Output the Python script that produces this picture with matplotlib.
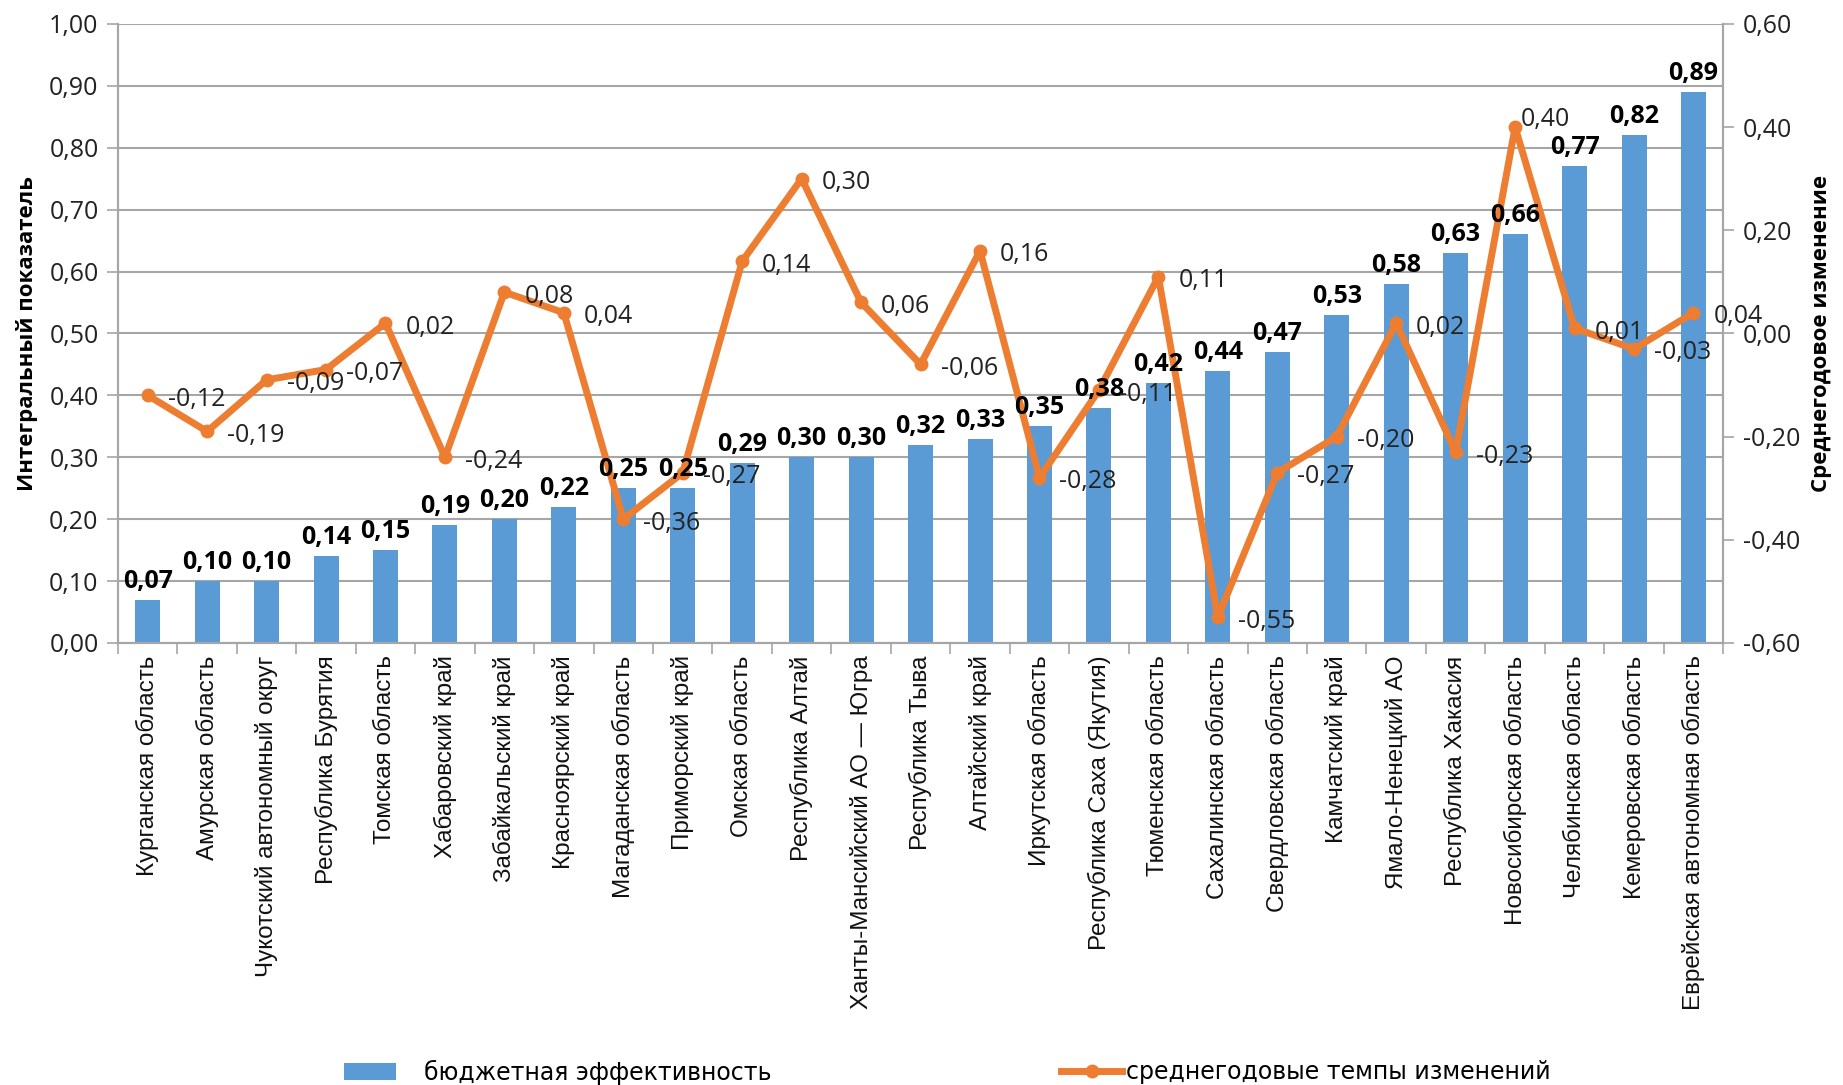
import matplotlib.pyplot as plt
from matplotlib.lines import Line2D
from matplotlib.patches import Patch
from matplotlib.ticker import FuncFormatter, MultipleLocator

regions = [
    'Курганская область', 'Амурская область', 'Чукотский автономный округ',
    'Республика Бурятия', 'Томская область', 'Хабаровский край',
    'Забайкальский край', 'Красноярский край', 'Магаданская область',
    'Приморский край', 'Омская область', 'Республика Алтай',
    'Ханты-Мансийский АО — Югра', 'Республика Тыва', 'Алтайский край',
    'Иркутская область', 'Республика Саха (Якутия)', 'Тюменская область',
    'Сахалинская область', 'Свердловская область', 'Камчатский край',
    'Ямало-Ненецкий АО', 'Республика Хакасия', 'Новосибирская область',
    'Челябинская область', 'Кемеровская область', 'Еврейская автономная область',
]
efficiency = [0.07, 0.10, 0.10, 0.14, 0.15, 0.19, 0.20, 0.22, 0.25, 0.25,
              0.29, 0.30, 0.30, 0.32, 0.33, 0.35, 0.38, 0.42, 0.44, 0.47,
              0.53, 0.58, 0.63, 0.66, 0.77, 0.82, 0.89]
growth = [-0.12, -0.19, -0.09, -0.07, 0.02, -0.24, 0.08, 0.04, -0.36, -0.27,
          0.14, 0.30, 0.06, -0.06, 0.16, -0.28, -0.11, 0.11, -0.55, -0.27,
          -0.20, 0.02, -0.23, 0.40, 0.01, -0.03, 0.04]

bar_color = '#5B9BD5'
line_color = '#ED7D31'
grid_color = '#A6A6A6'
num_font = 'Open Sans'
cat_font = 'Liberation Sans'


def fmt(v):
    return f'{v:.2f}'.replace('.', ',')


fig = plt.figure(figsize=(18.43, 10.85), dpi=100)
ax = fig.add_axes([0.064, 0.4074, 0.871, 0.5706])
ax2 = ax.twinx()

x = list(range(len(regions)))
bars = ax.bar(x, efficiency, width=0.42, color=bar_color, zorder=2)
ax.set_xlim(-0.5, len(regions) - 0.5)
ax.set_ylim(0, 1.0)
ax.yaxis.set_major_locator(MultipleLocator(0.1))
ax.yaxis.set_major_formatter(FuncFormatter(lambda v, p: fmt(v)))
ax.grid(axis='y', color=grid_color, linewidth=1.5, zorder=0)
ax.set_axisbelow(True)

ax2.plot(x, growth, color=line_color, linewidth=5, marker='o', markersize=9, zorder=3)
ax2.set_ylim(-0.6, 0.6)
ax2.yaxis.set_major_locator(MultipleLocator(0.2))
ax2.yaxis.set_major_formatter(FuncFormatter(lambda v, p: fmt(v)))

# x ticks: labels at centres, tick marks at category boundaries
ax.set_xticks(x)
ax.set_xticklabels(regions, rotation=90, fontsize=17.5, family=cat_font, color='#111111')
ax.tick_params(axis='x', length=0, pad=9)
ax.set_xticks([i - 0.5 for i in range(len(regions) + 1)], minor=True)
ax.tick_params(axis='x', which='minor', length=8, color=grid_color, width=1.2)

for a in (ax, ax2):
    a.tick_params(axis='y', length=8, color=grid_color, width=1.2, labelsize=18, pad=6,
                  labelcolor='#222222')
    for lbl in a.get_yticklabels():
        lbl.set_family(num_font)
    for s in a.spines.values():
        s.set_color(grid_color)
        s.set_linewidth(1.5)
    a.spines['top'].set_visible(False)

ax.set_ylabel('Интегральный показатель', fontsize=16, fontweight='bold',
              family=num_font, labelpad=8)
ax2.set_ylabel('Среднегодовое изменение', fontsize=16, fontweight='bold',
               family=num_font, labelpad=8)

# bar value labels (bold, above bars)
for xi, v in zip(x, efficiency):
    ax2.annotate(fmt(v), xy=(xi, v), xycoords=ax.transData, xytext=(0, 6),
                 textcoords='offset pixels', ha='center', va='bottom',
                 fontsize=18, fontweight='bold', family=num_font, zorder=5)

# line value labels (right of markers); the peak label sits tight to its marker
for xi, v in zip(x, growth):
    off = (6, 8) if v == max(growth) else (20, -4)
    ax2.annotate(fmt(v), xy=(xi, v), xytext=off, textcoords='offset pixels',
                 ha='left', va='center', fontsize=18, family=num_font,
                 color='#222222', zorder=5)

leg1 = fig.legend(handles=[Patch(facecolor=bar_color)], labels=['бюджетная эффективность'],
                  loc='center left', bbox_to_anchor=(344 / 1843, 1 - 1072 / 1085),
                  frameon=False, fontsize=17, handlelength=2.2, handleheight=0.75,
                  handletextpad=1.2, borderpad=0, borderaxespad=0)
leg2 = fig.legend(handles=[Line2D([0], [0], color=line_color, linewidth=5, marker='o',
                                  markersize=9)],
                  labels=['среднегодовые темпы изменений'],
                  loc='center left', bbox_to_anchor=(1061 / 1843, 1 - 1072 / 1085),
                  frameon=False, fontsize=17, handlelength=2.6, handletextpad=0.15,
                  borderpad=0, borderaxespad=0)

fig.savefig('out.png', dpi=100)
